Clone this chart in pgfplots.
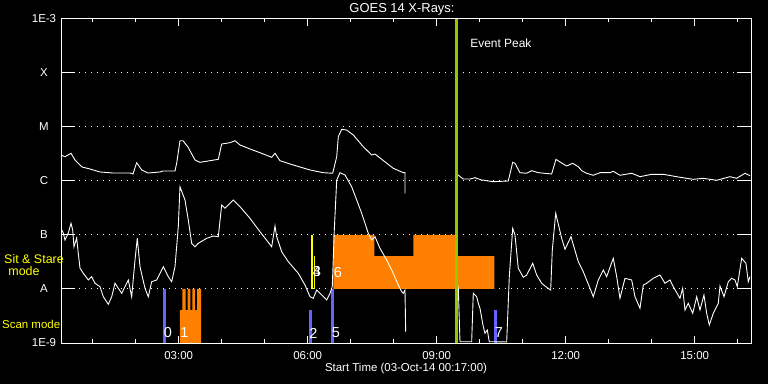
\documentclass[border=0pt]{standalone}
\usepackage{pgfplots}
\pgfplotsset{compat=1.18}
\usepackage{fontspec}
\setmainfont{Liberation Sans}
\definecolor{scanblue}{RGB}{100,100,255}
\definecolor{obsorange}{RGB}{255,128,0}
\definecolor{peakgreen}{RGB}{150,200,0}
\definecolor{labyellow}{RGB}{255,255,0}
\begin{document}
\begin{tikzpicture}
\fill[black] (0,0) rectangle (768bp,384bp);
\begin{axis}[
  at={(61bp,41bp)}, anchor=south west,
  scale only axis, width=690bp, height=324bp,
  xmin=0.263, xmax=16.31, ymin=-9, ymax=-3,
  axis line style={white, line width=1bp},
  xtick={3,6,9,12,15}, xticklabels={03:00,06:00,09:00,12:00,15:00},
  minor xtick={1,2,4,5,7,8,10,11,13,14,16},
  ytick={-9,-8,-7,-6,-5,-4,-3}, yticklabels={1E-9,A,B,C,M,X,1E-3},
  tick align=inside,
  xtick style={white, line width=1bp, /pgfplots/major tick length=7bp, /pgfplots/minor tick length=3.5bp},
  ytick style={white, line width=1bp, /pgfplots/major tick length=14bp},
  ymajorgrids, grid style={white, line width=1bp, dash pattern=on 1bp off 5bp},
  ticklabel style={white, font=\fontsize{11.5}{13}\selectfont},
  /pgf/number format/assume math mode=true,
  xticklabel style={anchor=center, yshift=-12.5bp},
  yticklabel style={anchor=center, xshift=-17bp},
  xlabel={Start Time (03-Oct-14 00:17:00)},
  xlabel style={white, font=\fontsize{11.5}{13}\selectfont, at={(axis description cs:0.5,0)}, anchor=center, yshift=-26bp},
  clip=true,
]
% Sit & Stare observations (orange)
\addplot[fill=obsorange, draw=none] coordinates {
 (6.595,-8) (6.595,-7) (7.549,-7) (7.549,-7.389) (8.456,-7.389) (8.456,-7)
 (9.426,-7) (9.426,-7.389) (10.34,-7.389) (10.34,-8)};
% Scan mode observations (orange)
\addplot[fill=obsorange, draw=none] coordinates {
 (3.030,-9) (3.030,-8.389) (3.084,-8.389) (3.084,-8) (3.163,-8) (3.163,-8.389)
 (3.210,-8.389) (3.210,-8) (3.270,-8) (3.270,-8.389) (3.316,-8.389) (3.316,-8)
 (3.379,-8) (3.379,-8.389) (3.428,-8.389) (3.428,-8) (3.519,-8) (3.519,-9)};
% blue bars
\addplot[scanblue, line width=3bp] coordinates {(2.665,-9) (2.665,-8)};
\addplot[scanblue, line width=3bp] coordinates {(6.065,-9) (6.065,-8.389)};
\addplot[scanblue, line width=3bp] coordinates {(6.577,-9) (6.577,-8)};
\addplot[scanblue, line width=3bp] coordinates {(10.368,-9) (10.368,-8.389)};
% yellow bars
\addplot[labyellow, line width=2.5bp] coordinates {(6.103,-8) (6.103,-7)};
\addplot[labyellow, line width=1.2bp] coordinates {(6.160,-8) (6.160,-7.389)};
% long channel
\addplot[white, line width=0.9bp] coordinates {
(0.263,-5.519)(0.356,-5.550)(0.496,-5.487)(0.589,-5.611)(0.658,-5.667)(0.751,-5.741)(0.937,-5.778)(1.170,-5.833)(1.472,-5.852)(1.868,-5.852)(1.937,-5.870)(2.023,-5.661)(2.140,-5.796)(2.286,-5.852)(2.565,-5.833)(2.635,-5.815)(2.914,-5.815)(2.954,-5.667)(3.030,-5.254)(3.100,-5.254)(3.216,-5.370)(3.379,-5.611)(3.495,-5.654)(3.728,-5.624)(3.921,-5.598)(4.000,-5.315)(4.193,-5.291)(4.309,-5.254)(4.426,-5.333)(4.658,-5.407)(4.891,-5.476)(5.163,-5.561)(5.240,-5.487)(5.356,-5.624)(5.589,-5.685)(6.054,-5.796)(6.363,-5.846)(6.582,-5.857)(6.675,-5.550)(6.712,-5.180)(6.791,-5.043)(6.907,-5.056)(7.061,-5.148)(7.293,-5.365)(7.489,-5.519)(7.565,-5.500)(7.721,-5.598)(7.991,-5.765)(8.224,-5.846)(8.263,-5.846)(8.263,-6.228)};
\addplot[white, line width=0.9bp] coordinates {
(9.465,-5.870)(9.619,-5.963)(9.774,-5.963)(9.891,-5.939)(10.046,-5.981)(10.316,-6.013)(10.665,-6.000)(10.768,-5.654)(10.821,-5.672)(10.937,-5.846)(11.093,-5.857)(11.209,-5.809)(11.363,-5.846)(11.674,-5.870)(11.774,-5.598)(11.868,-5.648)(12.023,-5.722)(12.163,-5.672)(12.293,-5.735)(12.372,-5.809)(12.488,-5.857)(12.642,-5.894)(12.798,-5.846)(13.030,-5.846)(13.107,-5.820)(13.263,-5.894)(13.535,-5.857)(13.728,-5.920)(14.000,-5.876)(14.270,-5.876)(14.658,-5.931)(14.967,-5.969)(15.200,-5.950)(15.512,-5.987)(15.821,-5.920)(15.977,-5.950)(16.170,-5.857)(16.286,-5.902)};
% short channel
\addplot[white, line width=0.9bp] coordinates {
(0.263,-6.876)(0.316,-6.963)(0.356,-7.093)(0.433,-6.963)(0.496,-6.783)(0.535,-6.907)(0.565,-7.217)(0.628,-7.056)(0.665,-7.339)(0.705,-7.617)(0.782,-7.709)(0.898,-7.833)(0.977,-7.772)(1.054,-7.894)(1.170,-7.957)(1.247,-8.143)(1.363,-8.283)(1.442,-8.143)(1.519,-7.894)(1.596,-7.987)(1.675,-8.080)(1.828,-7.833)(1.907,-8.143)(1.984,-7.463)(2.037,-7.061)(2.100,-7.587)(2.216,-7.987)(2.293,-8.143)(2.372,-7.865)(2.488,-7.833)(2.642,-7.587)(2.758,-7.772)(2.837,-7.865)(2.914,-7.587)(2.991,-6.846)(3.030,-6.106)(3.147,-6.352)(3.223,-6.722)(3.302,-7.154)(3.379,-7.217)(3.456,-7.154)(3.651,-7.061)(3.805,-7.019)(3.921,-7.031)(4.000,-6.444)(4.077,-6.506)(4.270,-6.352)(4.426,-6.476)(4.658,-6.691)(4.891,-6.939)(5.163,-7.217)(5.240,-6.833)(5.279,-7.031)(5.395,-7.309)(5.549,-7.494)(5.781,-7.709)(5.937,-7.926)(6.054,-8.143)(6.130,-8.172)(6.209,-8.019)(6.326,-8.111)(6.442,-8.204)(6.519,-8.080)(6.572,-7.957)(6.619,-6.907)(6.675,-5.981)(6.751,-5.846)(6.868,-5.889)(7.023,-6.106)(7.256,-6.598)(7.410,-6.969)(7.489,-7.093)(7.565,-7.031)(7.681,-7.246)(7.837,-7.463)(7.954,-7.648)(8.107,-7.926)(8.186,-8.050)(8.224,-8.080)(8.263,-8.019)(8.279,-8.791)};
\addplot[white, line width=0.9bp] coordinates {
(9.472,-7.870)(9.503,-7.987)(9.542,-8.976)(9.814,-8.976)(9.851,-8.080)(9.930,-8.143)(9.968,-8.265)(10.007,-8.357)(10.084,-8.698)(10.123,-8.820)(10.177,-8.759)(10.223,-8.976)(10.628,-8.981)(10.689,-7.772)(10.768,-6.876)(10.821,-7.000)(10.898,-7.617)(11.014,-7.783)(11.093,-7.741)(11.233,-7.524)(11.326,-7.741)(11.442,-7.894)(11.558,-7.969)(11.651,-8.019)(11.689,-7.278)(11.768,-6.598)(11.907,-7.061)(11.984,-7.265)(12.123,-7.031)(12.293,-7.494)(12.409,-7.680)(12.565,-7.987)(12.642,-8.143)(12.758,-7.833)(12.874,-7.648)(12.953,-7.772)(13.107,-7.431)(13.186,-7.772)(13.263,-8.172)(13.379,-7.802)(13.535,-7.833)(13.612,-8.143)(13.728,-8.357)(13.805,-7.926)(13.884,-7.894)(14.037,-7.802)(14.193,-7.741)(14.309,-7.894)(14.426,-7.833)(14.502,-7.957)(14.658,-8.172)(14.721,-7.987)(14.775,-8.389)(14.851,-8.265)(14.954,-8.450)(15.047,-8.143)(15.123,-8.389)(15.216,-8.111)(15.279,-8.450)(15.340,-8.667)(15.433,-8.450)(15.549,-8.265)(15.589,-7.944)(15.682,-8.143)(15.782,-7.865)(15.861,-7.802)(15.937,-7.833)(15.991,-7.957)(16.093,-7.431)(16.193,-7.524)(16.247,-7.865)(16.286,-7.772)};
% event peak
\addplot[peakgreen, line width=2.5bp] coordinates {(9.465,-9) (9.465,-3)};
\node[white, anchor=west, font=\fontsize{12}{14}\selectfont] at (axis cs:9.70,-3.444) {Event Peak};
% bar labels
\begin{scope}[every node/.style={white, font=\fontsize{14.5}{16}\selectfont, inner sep=0pt}]
\node at (axis cs:2.751,-8.815) {0};
\node at (axis cs:3.135,-8.815) {1};
\node at (axis cs:6.135,-8.815) {2};
\node at (axis cs:6.658,-8.815) {5};
\node at (axis cs:10.449,-8.815) {7};
\node at (axis cs:6.705,-7.694) {6};
\node at (axis cs:6.216,-7.685) {3};
\node at (axis cs:6.216,-7.685) {4};
\end{scope}
\end{axis}
\node[white, font=\fontsize{13}{15}\selectfont, inner sep=0pt] at (402bp,374.5bp) {GOES 14 X-Rays:};
\node[labyellow, font=\fontsize{12.5}{14}\selectfont, inner sep=0pt] at (34bp,125bp) {Sit \& Stare};
\node[labyellow, font=\fontsize{12.5}{14}\selectfont, inner sep=0pt] at (24bp,113bp) {mode};
\node[labyellow, font=\fontsize{11.5}{14}\selectfont, inner sep=0pt, anchor=west] at (2bp,60bp) {Scan mode};
\pgfresetboundingbox
\useasboundingbox (0,0) rectangle (768bp,384bp);
\end{tikzpicture}
\end{document}
